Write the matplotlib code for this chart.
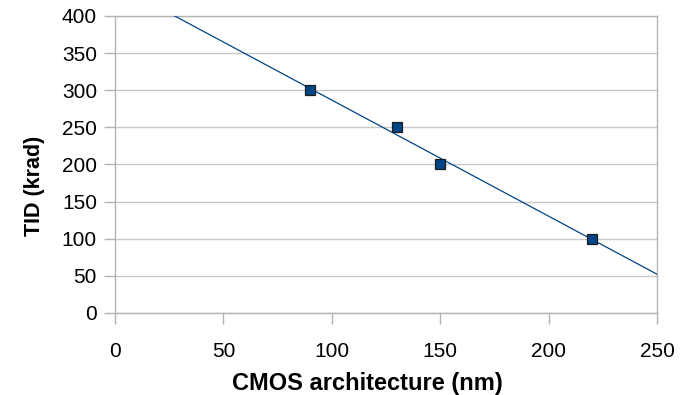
import numpy as np
import matplotlib.pyplot as plt

plt.rcParams['font.family'] = ['Liberation Sans', 'DejaVu Sans']

cmos_nm = np.array([90, 130, 150, 220])
tid_krad = np.array([300, 250, 200, 100])

# linear trend line over the data
coef = np.polyfit(cmos_nm, tid_krad, 1)
x_line = np.array([0, 250])
y_line = np.polyval(coef, x_line)

fig = plt.figure(figsize=(6.87, 3.95), dpi=100)
ax = fig.add_axes([0.1674, 0.2076, 0.7889, 0.7519])

ax.plot(x_line, y_line, color='#004586', lw=0.9, zorder=3)
ax.plot(cmos_nm, tid_krad, 's', ms=7.5, mfc='#004586', mec='#1c1c1c', mew=0.9, zorder=4)

ax.set_xlim(0, 250)
ax.set_ylim(0, 400)
ax.set_xticks(np.arange(0, 251, 50))
ax.set_yticks(np.arange(0, 401, 50))
ax.grid(axis='y', color='#c8c8c8', lw=1)
ax.set_axisbelow(True)
for s in ax.spines.values():
    s.set_color('#b3b3b3')
    s.set_linewidth(1)
ax.tick_params(colors='#b3b3b3', labelcolor='black', labelsize=15, length=8, width=1)
ax.tick_params(axis='x', pad=13)
ax.tick_params(axis='y', pad=5)

ax.set_xlabel('CMOS architecture (nm)', fontsize=17, fontweight='bold', va='center')
ax.set_ylabel('TID (krad)', fontsize=15.5, fontweight='bold', va='center')
ax.xaxis.set_label_coords(0.465, -0.236)
ax.yaxis.set_label_coords(-0.149, 0.428)

fig.savefig('out.png', dpi=100)
